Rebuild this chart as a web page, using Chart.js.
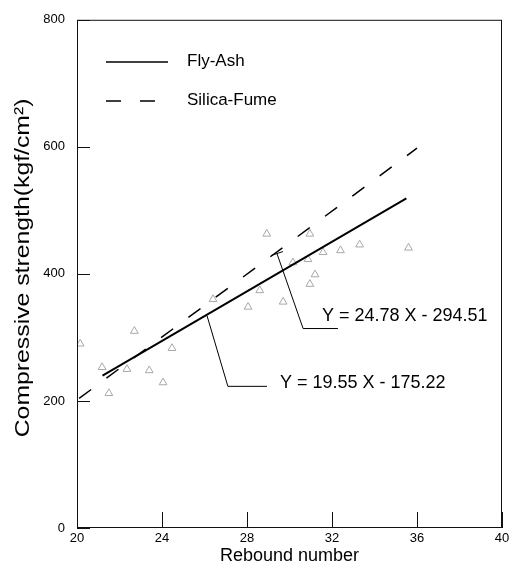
<!DOCTYPE html>
<html>
<head>
<meta charset="utf-8">
<script src="https://cdn.jsdelivr.net/npm/chart.js@4.4.0/dist/chart.umd.min.js"></script>
<style>
  html, body { margin: 0; padding: 0; background: #fff; }
</style>
</head>
<body>
<canvas id="strengthChart" width="527" height="573"></canvas>
<script>
// measured points (rebound number, compressive strength)
var pointX = [20.15, 21.18, 21.5, 22.35, 22.7, 23.4, 24.05, 24.47, 26.4, 28.05, 28.6, 28.93,
              29.7, 30.16, 30.87, 30.96, 31.2, 30.96, 31.58, 32.4, 33.3, 35.6];
var pointY = [290, 253, 212, 250, 310, 248, 229, 283, 360, 348, 374, 463,
              356, 418, 423, 463, 399, 384, 434, 437, 446, 441];

// regression lines, end points
var flyAshX = [21.2, 35.5];
var flyAshY = [240, 519];
var silicaX = [20.1, 36.0];
var silicaY = [204, 598];

var xTicks = [20, 24, 28, 32, 36, 40];
var yTicks = [0, 200, 400, 600, 800];

// equation labels: leader path in data units, text anchor
var flyAshEq = "Y = 19.55 X - 175.22";
var flyAshLeaderX = [26.12, 27.1, 28.94];
var flyAshLeaderY = [334, 223, 223];
var flyAshTextAt = [29.55, 220];

var silicaEq = "Y = 24.78 X - 294.51";
var silicaLeaderX = [29.41, 30.64, 32.28];
var silicaLeaderY = [432, 314, 314];
var silicaTextAt = [31.53, 326];

var yTitle = 'Compressive strength(kgf/cm²)';

var FONT = '"Liberation Sans", Arial, sans-serif';

function toXY(xs, ys) {
    return xs.map(function (x, i) { return {x: x, y: ys[i]}; });
}

var decorations = {
    id: 'decorations',
    afterDatasetsDraw: function (chart) {
        var ctx = chart.ctx;
        var a = chart.chartArea;
        var sx = chart.scales.x, sy = chart.scales.y;
        ctx.save();

        // frame
        ctx.strokeStyle = '#111';
        ctx.lineWidth = 1;
        ctx.strokeRect(a.left + 0.5, a.top + 0.5, a.right - a.left - 1, a.bottom - a.top - 1);

        // inner tick marks
        ctx.beginPath();
        xTicks.forEach(function (v) {
            var px = Math.round(sx.getPixelForValue(v)) + 0.5;
            ctx.moveTo(px, a.bottom);
            ctx.lineTo(px, a.bottom - 16);
        });
        yTicks.forEach(function (v) {
            var py = Math.round(sy.getPixelForValue(v)) + 0.5;
            ctx.moveTo(a.left, py);
            ctx.lineTo(a.left + 13, py);
        });
        ctx.stroke();

        // legend
        ctx.lineWidth = 1.5;
        ctx.strokeStyle = '#000';
        ctx.beginPath();
        ctx.moveTo(106, 62);
        ctx.lineTo(168, 62);
        ctx.stroke();
        ctx.setLineDash([15, 19]);
        ctx.beginPath();
        ctx.moveTo(106, 101);
        ctx.lineTo(158, 101);
        ctx.stroke();
        ctx.setLineDash([]);
        ctx.fillStyle = '#000';
        ctx.font = '17px ' + FONT;
        ctx.textBaseline = 'middle';
        ctx.fillText('Fly-Ash', 187, 61);
        ctx.fillText('Silica-Fume', 187, 100);

        // y axis title, drawn a bit stretched like the scan
        ctx.save();
        ctx.translate(23, (a.top + a.bottom) / 2 - 6);
        ctx.rotate(-Math.PI / 2);
        ctx.scale(1.18, 1);
        ctx.font = '21px ' + FONT;
        ctx.textAlign = 'center';
        ctx.textBaseline = 'middle';
        ctx.fillText(yTitle, 0, 0);
        ctx.restore();

        // equation leaders
        ctx.lineWidth = 1;
        function leader(xs, ys) {
            ctx.beginPath();
            xs.forEach(function (x, i) {
                var px = sx.getPixelForValue(x), py = sy.getPixelForValue(ys[i]);
                if (i === 0) ctx.moveTo(px, py); else ctx.lineTo(px, py);
            });
            ctx.stroke();
        }
        leader(flyAshLeaderX, flyAshLeaderY);
        leader(silicaLeaderX, silicaLeaderY);
        // small bar at the top of the silica-fume leader
        var tx = sx.getPixelForValue(silicaLeaderX[0]), ty = sy.getPixelForValue(silicaLeaderY[0]);
        ctx.beginPath();
        ctx.moveTo(tx - 6, ty + 2);
        ctx.lineTo(tx + 6, ty - 2);
        ctx.stroke();

        ctx.font = '18px ' + FONT;
        ctx.textBaseline = 'alphabetic';
        ctx.fillText(flyAshEq, sx.getPixelForValue(flyAshTextAt[0]), sy.getPixelForValue(flyAshTextAt[1]));
        ctx.fillText(silicaEq, sx.getPixelForValue(silicaTextAt[0]), sy.getPixelForValue(silicaTextAt[1]));

        ctx.restore();
    }
};

var chart = new Chart(document.getElementById('strengthChart'), {
    type: 'scatter',
    data: {
        datasets: [{
            label: 'Silica-Fume',
            data: toXY(silicaX, silicaY),
            showLine: true,
            borderColor: '#000',
            borderWidth: 1.5,
            borderDash: [15, 19],
            pointRadius: 0,
            fill: false
        }, {
            label: 'Fly-Ash',
            data: toXY(flyAshX, flyAshY),
            showLine: true,
            borderColor: '#000',
            borderWidth: 2,
            pointRadius: 0,
            fill: false
        }, {
            label: 'Data',
            data: toXY(pointX, pointY),
            pointStyle: 'triangle',
            pointRadius: 4.5,
            borderColor: '#a8a8a8',
            backgroundColor: 'rgba(0,0,0,0)',
            borderWidth: 1
        }]
    },
    options: {
        responsive: false,
        animation: false,
        layout: { padding: { top: 15, right: 25, left: 0, bottom: 0 } },
        plugins: {
            legend: { display: false },
            tooltip: { enabled: false }
        },
        scales: {
            x: {
                type: 'linear',
                min: 20,
                max: 40,
                afterFit: function (s) { s.height = 45; },
                grid: { display: false, drawTicks: false },
                border: { display: false },
                ticks: {
                    stepSize: 4,
                    padding: 3,
                    color: '#000',
                    font: { family: FONT, size: 13 }
                },
                title: {
                    display: true,
                    text: 'Rebound number',
                    color: '#000',
                    font: { family: FONT, size: 18 },
                    padding: { top: 0, bottom: 6 }
                }
            },
            y: {
                type: 'linear',
                min: 0,
                max: 800,
                afterFit: function (s) { s.width = 77; },
                grid: { display: false, drawTicks: false },
                border: { display: false },
                ticks: {
                    stepSize: 200,
                    padding: 12,
                    color: '#000',
                    font: { family: FONT, size: 13 }
                },
                title: { display: false }
            }
        }
    },
    plugins: [decorations]
});
</script>
</body>
</html>
